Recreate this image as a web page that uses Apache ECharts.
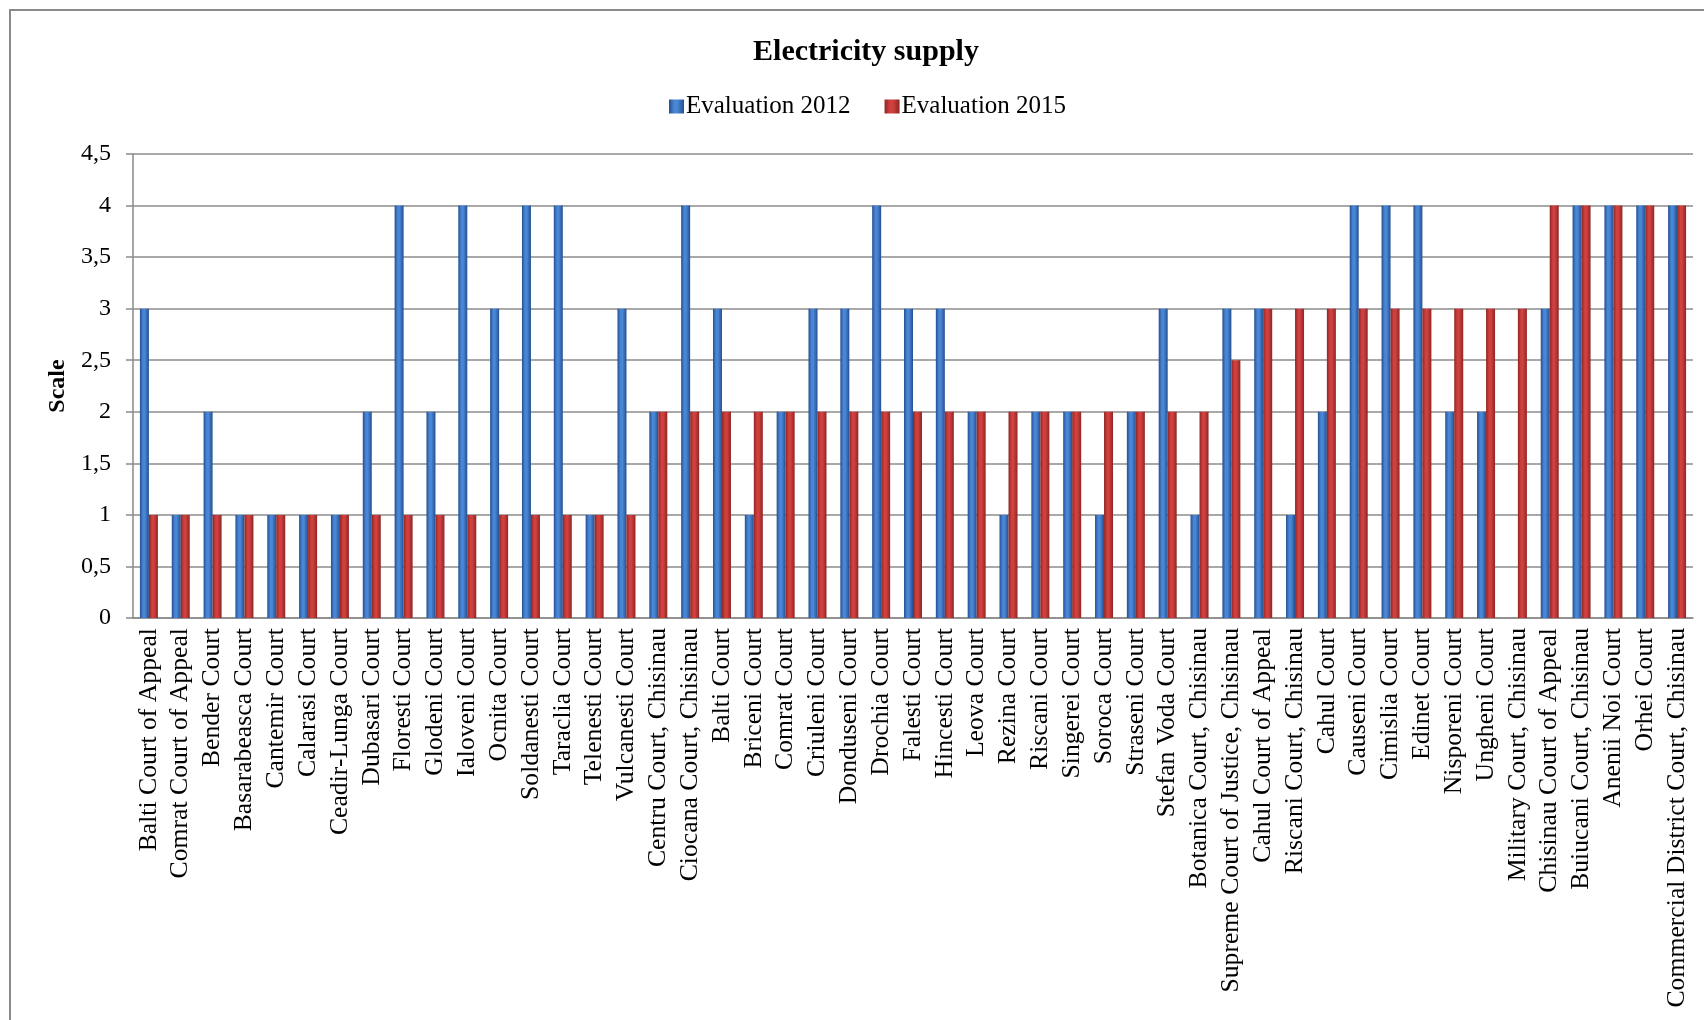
<!DOCTYPE html>
<html>
<head>
<meta charset="utf-8">
<script src="https://cdn.jsdelivr.net/npm/echarts@6/dist/echarts.min.js"></script>
<style>
html,body{margin:0;padding:0;background:#fff;}
#chart{width:1704px;height:1020px;}
</style>
</head>
<body>
<div id="chart"></div>
<script>
const categories = [
  "Balti Court of Appeal","Comrat Court of Appeal","Bender Court","Basarabeasca Court","Cantemir Court",
  "Calarasi Court","Ceadir-Lunga Court","Dubasari Court","Floresti Court","Glodeni Court",
  "Ialoveni Court","Ocnita Court","Soldanesti Court","Taraclia Court","Telenesti Court",
  "Vulcanesti Court","Centru Court, Chisinau","Ciocana Court, Chisinau","Balti Court","Briceni Court",
  "Comrat Court","Criuleni Court","Donduseni Court","Drochia Court","Falesti Court",
  "Hincesti Court","Leova Court","Rezina Court","Riscani Court","Singerei Court",
  "Soroca Court","Straseni Court","Stefan Voda Court","Botanica Court, Chisinau","Supreme Court of Justice, Chisinau",
  "Cahul Court of Appeal","Riscani Court, Chisinau","Cahul Court","Causeni Court","Cimislia Court",
  "Edinet Court","Nisporeni Court","Ungheni Court","Military Court, Chisinau","Chisinau Court of Appeal",
  "Buiucani Court, Chisinau","Anenii Noi Court","Orhei Court","Commercial District Court, Chisinau"
];
const eval2012 = [3,1,2,1,1,1,1,2,4,2,4,3,4,4,1,3,2,4,3,1,2,3,3,4,3,3,2,1,2,2,1,2,3,1,3,3,1,2,4,4,4,2,2,0,3,4,4,4,4];
const eval2015 = [1,1,1,1,1,1,1,1,1,1,1,1,1,1,1,1,2,2,2,2,2,2,2,2,2,2,2,2,2,2,2,2,2,2,2.5,3,3,3,3,3,3,3,3,3,4,4,4,4,4];
const seriesNames = ["Evaluation 2012","Evaluation 2015"];
const yTicks = [0,0.5,1,1.5,2,2.5,3,3.5,4,4.5];

const FONT = '"Liberation Serif","Times New Roman",serif';
function grad(edge, mid){
  return new echarts.graphic.LinearGradient(0,0,1,0,[
    {offset:0,color:edge},{offset:0.35,color:mid},{offset:0.55,color:mid},{offset:1,color:edge}
  ]);
}
const blue = grad('#23508f','#4a86d6');
const red = grad('#8e2624','#d0403e');

const chart = echarts.init(document.getElementById('chart'), null, {renderer:'canvas'});
chart.setOption({
  backgroundColor:'#fff',
  animation:false,
  title:{
    text:'Electricity supply',
    left:861, top:32, textAlign:'center',
    textStyle:{fontFamily:FONT,fontWeight:'bold',fontSize:30,color:'#000'}
  },
  legend:{
    left:664, top:89, itemWidth:15, itemHeight:14, itemGap:34,
    icon:'rect',
    textStyle:{fontFamily:FONT,fontSize:25,color:'#000',padding:[0,0,0,-3]},
    data:[{name:seriesNames[0],itemStyle:{color:blue}},{name:seriesNames[1],itemStyle:{color:red}}]
  },
  graphic:[{type:'rect',shape:{x:10,y:10,width:1720,height:1040},style:{fill:'none',stroke:'#8a8a8a',lineWidth:2},silent:true}],
  grid:{left:133,right:11,top:154,bottom:402,containLabel:false},
  xAxis:{
    type:'category', data:categories,
    axisLine:{lineStyle:{color:'#8a8a8a',width:1.5}},
    axisTick:{show:false},
    axisLabel:{interval:0,rotate:90,margin:10,fontFamily:FONT,fontSize:25.7,color:'#000'}
  },
  yAxis:{
    type:'value', min:0, max:4.5, interval:0.5,
    name:'Scale', nameLocation:'middle', nameGap:62, nameRotate:90,
    nameTextStyle:{fontFamily:FONT,fontWeight:'bold',fontSize:24,color:'#000'},
    axisLine:{show:true,lineStyle:{color:'#8a8a8a',width:1.5}},
    axisTick:{show:true,length:7,lineStyle:{color:'#8a8a8a',width:1.5}},
    splitLine:{lineStyle:{color:'#8c8c8c',width:1.5}},
    axisLabel:{margin:22,fontFamily:FONT,fontSize:24,color:'#000',
      formatter:function(v){return String(v).replace('.',',');}}
  },
  series:[
    {name:seriesNames[0],type:'bar',data:eval2012,barWidth:9,barGap:'0%',itemStyle:{color:blue}},
    {name:seriesNames[1],type:'bar',data:eval2015,barWidth:9,barGap:'0%',itemStyle:{color:red}}
  ]
});
</script>
</body>
</html>
